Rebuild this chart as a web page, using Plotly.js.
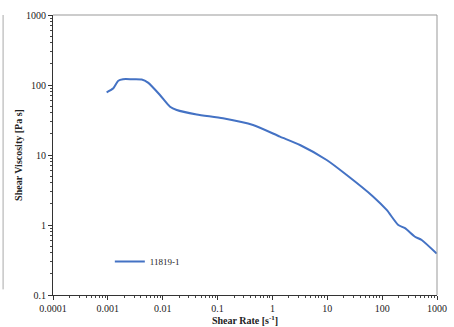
<!DOCTYPE html>
<html>
<head>
<meta charset="utf-8">
<script src="https://cdn.plot.ly/plotly-3.0.1.min.js"></script>
<style>html,body{margin:0;padding:0;background:#fff;}#chart{width:454px;height:327px;}</style>
</head>
<body>
<div id="chart"></div>
<script>
const seriesName = "11819-1";
const shearRate = [0.00095, 0.00126, 0.00155, 0.00189, 0.00275, 0.00414, 0.0054, 0.0089, 0.0136, 0.018, 0.0416, 0.1256, 0.443, 1.37, 3.18, 9.75, 22.6, 68.9, 121, 197, 261, 397, 526, 986];
const viscosity = [78.7, 89.7, 115, 121, 121, 120, 108, 72, 49, 44, 38, 33.4, 26.8, 18.3, 13.9, 8.49, 5.18, 2.54, 1.64, 1.0, 0.90, 0.68, 0.61, 0.39];
const xTickVals = [0.0001, 0.001, 0.01, 0.1, 1, 10, 100, 1000];
const xTickText = ["0.0001", "0.001", "0.01", "0.1", "1", "10", "100", "1000"];
const yTickVals = [0.1, 1, 10, 100, 1000];
const yTickText = ["0.1", "1", "10", "100", "1000"];

const serif = "Liberation Serif, Times New Roman, serif";
const trace = {
  x: shearRate, y: viscosity, type: 'scatter', mode: 'lines', name: seriesName,
  line: {color: '#4472C4', width: 2, shape: 'spline', smoothing: 0.6}
};
const layout = {
  width: 454, height: 327,
  margin: {l: 53, r: 17, t: 15, b: 32},
  paper_bgcolor: '#fff', plot_bgcolor: '#fff',
  showlegend: true,
  legend: {x: 0.148, y: 0.12, xanchor: 'left', yanchor: 'middle', bgcolor: 'rgba(0,0,0,0)',
           font: {family: serif, size: 9, color: '#222'}},
  xaxis: {
    type: 'log', range: [-4, 3], tickvals: xTickVals, ticktext: xTickText,
    showgrid: false, zeroline: false, showline: true, linecolor: '#333', linewidth: 1,
    ticks: 'outside', ticklen: 4, tickcolor: '#333',
    minor: {dtick: 'D1', ticks: 'outside', ticklen: 2, tickcolor: '#444', showgrid: false},
    tickfont: {family: serif, size: 10, color: '#222'},
    title: {text: '<b>Shear Rate [s<sup>-1</sup>]</b>', font: {family: serif, size: 10, color: '#222'}, standoff: 0}
  },
  yaxis: {
    type: 'log', range: [-1, 3], tickvals: yTickVals, ticktext: yTickText,
    showgrid: false, zeroline: false, showline: true, linecolor: '#333', linewidth: 1,
    ticks: 'outside', ticklen: 4, tickcolor: '#333',
    minor: {dtick: 'D1', ticks: 'outside', ticklen: 2, tickcolor: '#444', showgrid: false},
    tickfont: {family: serif, size: 10, color: '#222'},
    title: {text: '<b>Shear Viscosity [Pa s]</b>', font: {family: serif, size: 10, color: '#222'}, standoff: 1}
  },
  shapes: [
    {type: 'line', xref: 'paper', yref: 'paper', x0: 0, x1: 1, y0: 1, y1: 1, line: {color: '#999', width: 1}},
    {type: 'line', xref: 'paper', yref: 'paper', x0: 1, x1: 1, y0: 0, y1: 1, line: {color: '#999', width: 1}},
    {type: 'line', xref: 'paper', yref: 'paper', x0: -0.130, x1: -0.130, y0: 0.02, y1: 1.0, line: {color: '#aaa', width: 1}}
  ]
};
Plotly.newPlot('chart', [trace], layout, {displayModeBar: false, staticPlot: true});
</script>
</body>
</html>
